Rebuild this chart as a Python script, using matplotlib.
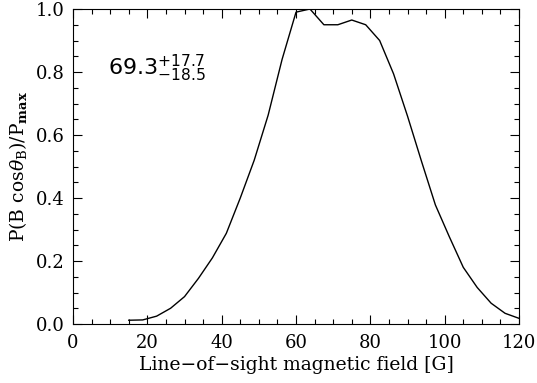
import matplotlib
matplotlib.use("Agg")
import matplotlib.pyplot as plt
import numpy as np
from matplotlib.ticker import MultipleLocator

# binned field values [G] and normalised probability
field = [15, 18.75, 22.5, 26.25, 30, 33.75, 37.5, 41.25, 45, 48.75,
         52.5, 56.25, 60, 63.75, 67.5, 71.25, 75, 78.75, 82.5, 86.25,
         90, 93.75, 97.5, 101.25, 105, 108.75, 112.5, 116.25, 120]
prob = [0.012, 0.013, 0.025, 0.05, 0.087, 0.145, 0.21, 0.288, 0.40, 0.52,
        0.663, 0.84, 0.99, 1.0, 0.95, 0.95, 0.965, 0.95, 0.90, 0.794,
        0.66, 0.517, 0.378, 0.277, 0.18, 0.116, 0.066, 0.034, 0.018]

plt.rcParams['font.family'] = 'DejaVu Serif'
plt.rcParams['mathtext.fontset'] = 'dejavuserif'

fig = plt.figure(figsize=(5.37, 3.83), dpi=100)
ax = fig.add_axes([0.136, 0.154, 0.8305, 0.8225])

ax.plot(field, prob, color='black', lw=1.0)

ax.set_xlim(0, 120)
ax.set_ylim(0, 1)
ax.xaxis.set_major_locator(MultipleLocator(20))
ax.xaxis.set_minor_locator(MultipleLocator(5))
ax.yaxis.set_major_locator(MultipleLocator(0.2))
ax.yaxis.set_minor_locator(MultipleLocator(0.05))
ax.yaxis.set_major_formatter(matplotlib.ticker.FormatStrFormatter('%.1f'))
ax.tick_params(which='both', direction='in', top=True, right=True,
               labelsize=13, width=0.8)
ax.tick_params(which='major', length=6.5)
ax.tick_params(axis='x', which='major', pad=7)
ax.tick_params(axis='y', which='major', pad=6)
ax.tick_params(which='minor', length=3.5)
for s in ax.spines.values():
    s.set_linewidth(0.8)

ax.set_xlabel('Line\u2212of\u2212sight magnetic field [G]', fontsize=13.5,
              labelpad=3)
ax.set_ylabel(r'P(B cos$\theta_{\rm B}$)/P$_{\mathbf{max}}$', fontsize=13.5,
              labelpad=5)

ax.text(9.5, 0.79, r'$69.3^{+17.7}_{-18.5}$', fontsize=16,
        family='DejaVu Sans', math_fontfamily='dejavusans')

fig.savefig('out.png', dpi=100)
